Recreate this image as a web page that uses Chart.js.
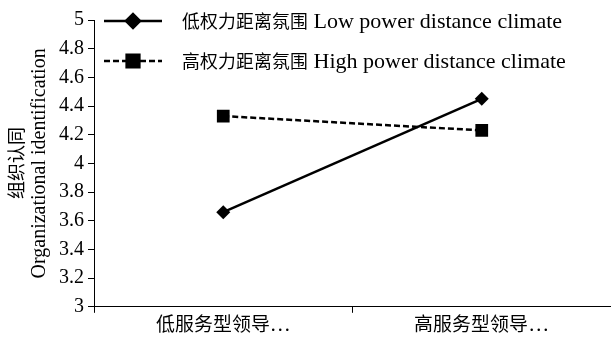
<!DOCTYPE html>
<html>
<head>
<meta charset="utf-8">
<script src="https://cdn.jsdelivr.net/npm/chart.js@4/dist/chart.umd.min.js"></script>
<style>
  html, body { margin: 0; padding: 0; background: #fff; }
  #wrap { width: 611px; height: 340px; position: relative; }
  /* CJK glyphs a bit smaller than the latin ones, as in the source figure */
  @font-face {
    font-family: "CJKSmall";
    src: local("Noto Sans CJK SC"), local("NotoSansCJKsc-Regular");
    size-adjust: 90%;
  }
  @font-face {
    font-family: "CJKLegend";
    src: local("Noto Sans CJK SC"), local("NotoSansCJKsc-Regular");
    size-adjust: 81%;
  }
</style>
</head>
<body>
<div id="wrap"><canvas id="chart"></canvas></div>
<script>
// data
const categories = ['低服务型领导…', '高服务型领导…'];
const lowPowerLabel = '低权力距离氛围 Low power distance climate';
const highPowerLabel = '高权力距离氛围 High power distance climate';
const lowPowerValues = [3.66, 4.45];
const highPowerValues = [4.33, 4.23];
const yTicks = [3, 3.2, 3.4, 3.6, 3.8, 4, 4.2, 4.4, 4.6, 4.8, 5];
const yTitle = ['组织认同', 'Organizational identification'];

const FONT = '"Liberation Serif", "CJKSmall", "Noto Sans CJK SC", serif';
const LEGEND_FONT = '"Liberation Serif", "CJKLegend", "Noto Sans CJK SC", serif';

// legend drawn inside the plot: line + marker + text
const lineLegend = {
    id: 'lineLegend',
    afterDraw(chart) {
        const ctx = chart.ctx;
        const area = chart.chartArea;
        const x0 = area.left + 10;
        const x1 = x0 + 58;
        const rows = [area.top + 1, area.top + 41];
        chart.data.datasets.forEach(function(ds, i) {
            const y = rows[i];
            ctx.save();
            ctx.strokeStyle = '#000';
            ctx.lineWidth = ds.borderWidth;
            ctx.setLineDash(ds.borderDash || []);
            ctx.beginPath();
            ctx.moveTo(x0, y);
            ctx.lineTo(x1, y);
            ctx.stroke();
            ctx.setLineDash([]);
            Chart.helpers.drawPoint(ctx, {
                pointStyle: ds.pointStyle,
                radius: ds.pointRadius,
                rotation: 0,
                borderWidth: 1
            }, (x0 + x1) / 2, y);
            ctx.fillStyle = '#000';
            ctx.fill();
            ctx.font = '22px ' + LEGEND_FONT;
            ctx.textBaseline = 'middle';
            ctx.fillText(ds.label, x1 + 20, y + 1);
            ctx.restore();
        });
    }
};

function draw() {
    new Chart(document.getElementById('chart'), {
        type: 'line',
        data: {
            labels: categories,
            datasets: [
                {
                    label: lowPowerLabel,
                    data: lowPowerValues,
                    borderColor: '#000',
                    backgroundColor: '#000',
                    borderWidth: 2.5,
                    pointStyle: 'rectRot',
                    pointRadius: 7,
                    pointBorderWidth: 0
                },
                {
                    label: highPowerLabel,
                    data: highPowerValues,
                    borderColor: '#000',
                    backgroundColor: '#000',
                    borderWidth: 2.5,
                    borderDash: [6, 3],
                    pointStyle: 'rect',
                    pointRadius: 9,
                    pointBorderWidth: 0
                }
            ]
        },
        options: {
            responsive: true,
            maintainAspectRatio: false,
            animation: false,
            layout: { autoPadding: false, padding: { top: 20, right: 0, left: 7, bottom: 2 } },
            plugins: {
                legend: { display: false },
                tooltip: { enabled: false }
            },
            scales: {
                x: {
                    offset: true,
                    grid: {
                        offset: true,
                        drawOnChartArea: false,
                        drawTicks: true,
                        tickLength: 6,
                        color: '#000'
                    },
                    border: { display: true, color: '#000', width: 1 },
                    ticks: { color: '#000', font: { size: 21, family: FONT }, padding: 0, maxRotation: 0 }
                },
                y: {
                    min: 3,
                    max: 5,
                    afterBuildTicks(scale) {
                        scale.ticks = yTicks.map(v => ({ value: v }));
                    },
                    grid: {
                        drawOnChartArea: false,
                        drawTicks: true,
                        tickLength: 6,
                        color: '#000'
                    },
                    border: { display: true, color: '#000', width: 1 },
                    ticks: {
                        color: '#000',
                        font: { size: 20, family: FONT },
                        padding: 4,
                        callback: v => String(+Number(v).toFixed(1))
                    },
                    title: {
                        display: true,
                        text: yTitle,
                        color: '#000',
                        font: { size: 20, family: FONT, lineHeight: 1.1 },
                        padding: { top: 0, bottom: 4 }
                    }
                }
            }
        },
        plugins: [lineLegend]
    });
}

document.fonts.load('20px CJKSmall', '低').then(function() {
    return document.fonts.load('20px CJKLegend', '低');
}).then(draw, draw);
</script>
</body>
</html>
